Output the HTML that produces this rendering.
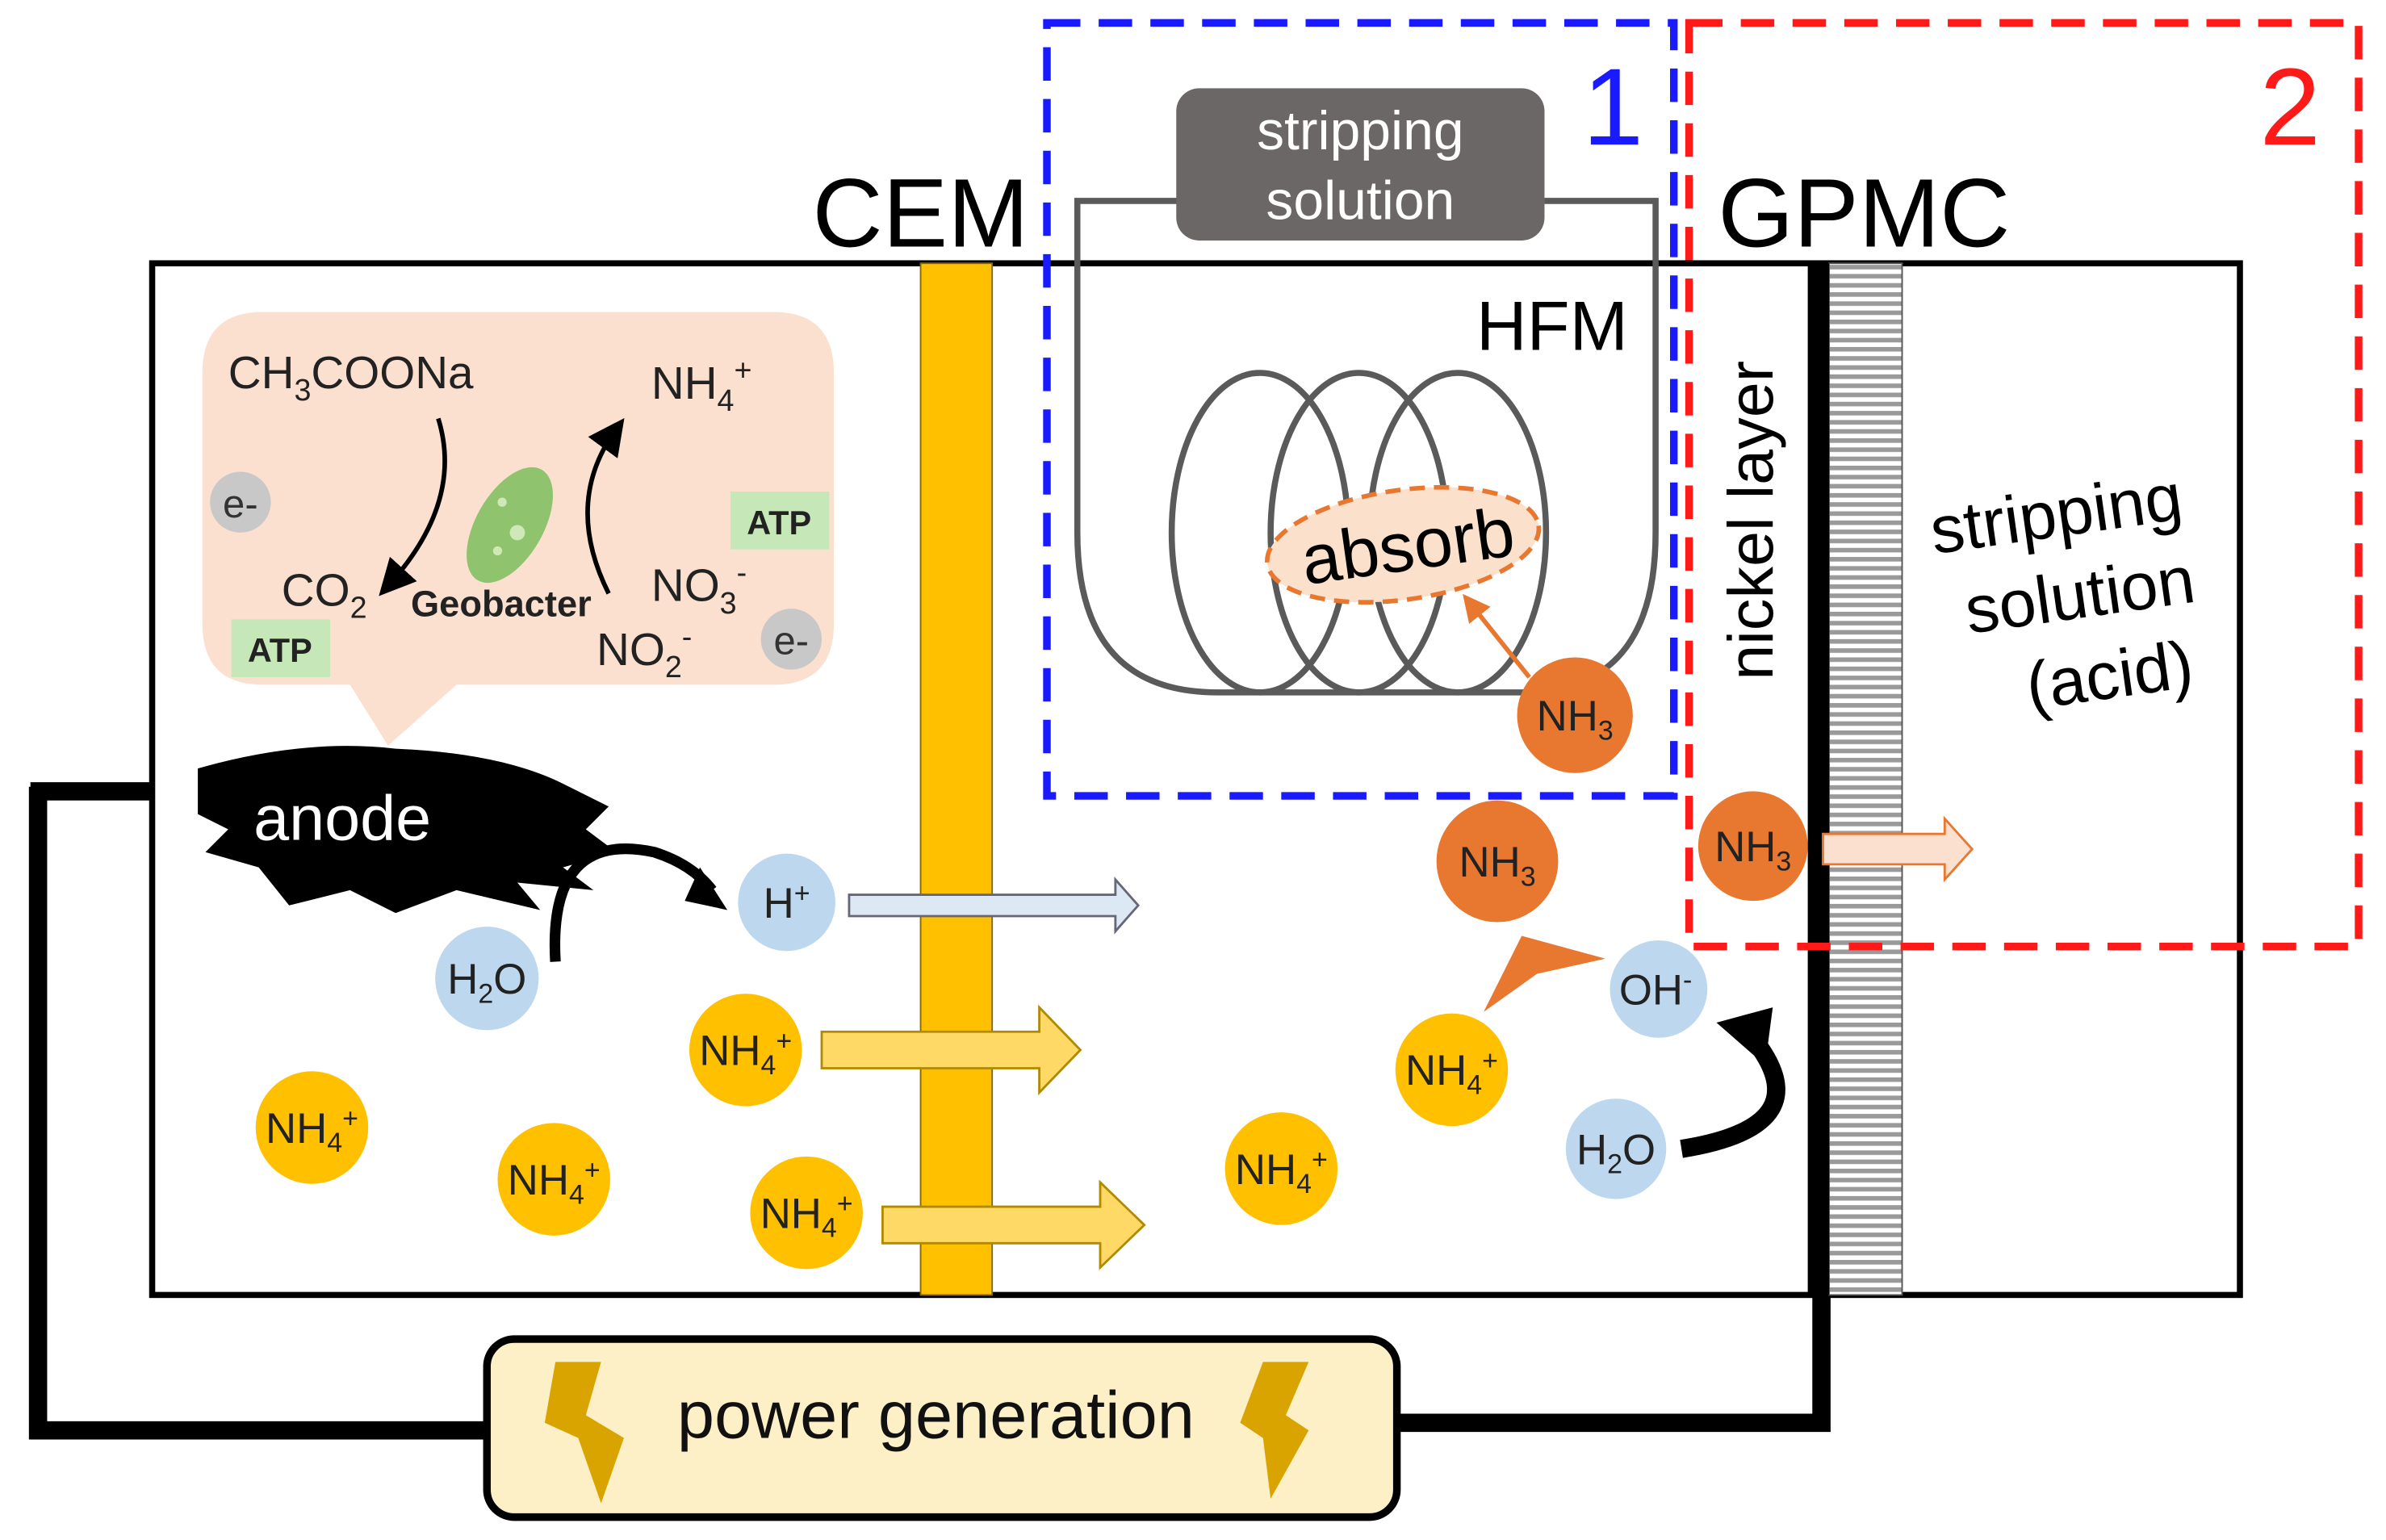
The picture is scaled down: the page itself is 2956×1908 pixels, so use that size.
<!DOCTYPE html>
<html><head><meta charset="utf-8"><style>html,body{margin:0;padding:0;background:#fff}svg{display:block}</style></head>
<body>
<svg width="2956" height="1908" viewBox="0 0 1568 1012" xmlns="http://www.w3.org/2000/svg" font-family="Liberation Sans, sans-serif">
<defs>
<pattern id="hatch" width="6" height="6" patternUnits="userSpaceOnUse"><rect width="6" height="6" fill="#fff"/><rect width="6" height="3" fill="#9a9a9a"/></pattern>
<marker id="ah" markerWidth="8" markerHeight="8" refX="5" refY="4" orient="auto"><path d="M0,0 L8,4 L0,8 Z" fill="#000"/></marker>
<marker id="ao" markerWidth="6" markerHeight="6" refX="4" refY="3" orient="auto"><path d="M0,0 L6,3 L0,6 Z" fill="#E87730"/></marker>
</defs>
<!-- wires -->
<path d="M20,520 H150 M25,517 V940 H322 M918,935 H1197 V851" fill="none" stroke="#000" stroke-width="12"/>
<!-- main box -->
<rect x="100" y="173" width="1372" height="678" fill="#fff" stroke="#000" stroke-width="4"/>
<!-- CEM -->
<rect x="605" y="173" width="47" height="678" fill="#FFC000" stroke="#8a6a00" stroke-width="1"/>
<!-- GPMC -->
<rect x="1202" y="173" width="48" height="678" fill="url(#hatch)" stroke="#555" stroke-width="1"/>
<rect x="1188" y="173" width="14" height="678" fill="#000"/>
<!-- callout -->
<path d="M173,205 H508 Q548,205 548,245 V410 Q548,450 508,450 H300 L255,490 L230,450 H173 Q133,450 133,410 V245 Q133,205 173,205 Z" fill="#fbe0d0"/>
<text x="150" y="255" font-size="30" fill="#222">CH<tspan font-size="20" dy="8">3</tspan><tspan dy="-8">COONa</tspan></text>
<text x="428" y="262" font-size="30" fill="#222">NH<tspan font-size="20" dy="8">4</tspan><tspan font-size="20" dy="-20">+</tspan></text>
<text x="185" y="398" font-size="30" fill="#222">CO<tspan font-size="20" dy="8">2</tspan></text>
<text x="428" y="395" font-size="30" fill="#222">NO<tspan font-size="20" dy="8">3</tspan><tspan font-size="20" dy="-20">-</tspan></text>
<text x="392" y="437" font-size="30" fill="#222">NO<tspan font-size="20" dy="8">2</tspan><tspan font-size="20" dy="-20">-</tspan></text>
<text x="270" y="405" font-size="24" font-weight="bold" fill="#222">Geobacter</text>
<path d="M288,275 Q305,330 255,385" fill="none" stroke="#000" stroke-width="3" marker-end="url(#ah)"/>
<path d="M400,390 Q370,330 405,282" fill="none" stroke="#000" stroke-width="3" marker-end="url(#ah)"/>
<ellipse cx="335" cy="345" rx="22" ry="42" transform="rotate(30 335 345)" fill="#8fc36e"/>
<circle cx="330" cy="330" r="3" fill="#cfe8b8"/><circle cx="340" cy="350" r="5" fill="#cfe8b8"/><circle cx="327" cy="362" r="3" fill="#cfe8b8"/>
<circle cx="158" cy="330" r="20" fill="#c8c8c8"/><text x="158" y="340" font-size="26" text-anchor="middle" fill="#333">e-</text>
<circle cx="520" cy="420" r="20" fill="#c8c8c8"/><text x="520" y="430" font-size="26" text-anchor="middle" fill="#333">e-</text>
<rect x="480" y="323" width="65" height="38" fill="#c6e8b8"/><text x="512" y="351" font-size="22" font-weight="bold" text-anchor="middle" fill="#222">ATP</text>
<rect x="152" y="407" width="65" height="38" fill="#c6e8b8"/><text x="184" y="435" font-size="22" font-weight="bold" text-anchor="middle" fill="#222">ATP</text>
<!-- anode -->
<path d="M130,505 Q200,485 260,492 Q330,495 370,515 L400,530 L385,545 L405,560 L370,570 L390,585 L340,580 L355,598 L300,585 L260,600 L230,585 L190,595 L170,570 L135,560 L150,545 L130,535 Z" fill="#000"/>
<text x="225" y="552" font-size="42" fill="#fff" text-anchor="middle">anode</text>
<!-- blue dashed -->
<rect x="688" y="15" width="412" height="508" fill="none" stroke="#1a1aff" stroke-width="5" stroke-dasharray="22 12"/>
<text x="1060" y="95" font-size="72" fill="#1a1aff" text-anchor="middle">1</text>
<!-- red dashed -->
<rect x="1110" y="15" width="440" height="607" fill="none" stroke="#ff1a1a" stroke-width="5" stroke-dasharray="22 12"/>
<text x="1505" y="95" font-size="72" fill="#ff1a1a" text-anchor="middle">2</text>
<!-- loop -->
<path d="M775,132 H708 V350 Q708,455 800,455 H1000 Q1088,455 1088,350 V132 H1015" fill="none" stroke="#5a5a5a" stroke-width="4"/>
<g fill="none" stroke="#5a5a5a" stroke-width="4">
<ellipse cx="828" cy="350" rx="58" ry="105"/><ellipse cx="893" cy="350" rx="58" ry="105"/><ellipse cx="958" cy="350" rx="58" ry="105"/>
</g>
<rect x="773" y="58" width="242" height="100" rx="15" fill="#6b6767"/>
<text x="894" y="98" font-size="36" fill="#fff" text-anchor="middle">stripping</text>
<text x="894" y="144" font-size="36" fill="#fff" text-anchor="middle">solution</text>
<text x="1020" y="230" font-size="46" fill="#000" text-anchor="middle">HFM</text>
<ellipse cx="922" cy="358" rx="90" ry="36" transform="rotate(-8 922 358)" fill="#fbe0cc" stroke="#E87730" stroke-width="3" stroke-dasharray="10 6"/>
<text x="925" y="375" font-size="46" text-anchor="middle" transform="rotate(-8 922 358)" fill="#000">absorb</text>
<path d="M1005,445 L965,395" stroke="#E87730" stroke-width="3" marker-end="url(#ao)"/>
<!-- labels -->
<text x="605" y="162" font-size="64" text-anchor="middle">CEM</text>
<text x="1225" y="162" font-size="64" text-anchor="middle">GPMC</text>
<text x="1178" y="355" font-size="42" text-anchor="middle" transform="rotate(-90 1165 355)">nickel layer</text>
<g transform="rotate(-8 1360 400)" font-size="44" text-anchor="middle">
<text x="1360" y="352">stripping</text><text x="1368" y="407">solution</text><text x="1380" y="462">(acid)</text></g>
<!-- NH3 -->
<g fill="#E87730"><circle cx="1035" cy="470" r="38"/><circle cx="984" cy="566" r="40"/><circle cx="1152" cy="556" r="36"/></g>
<g font-size="28" text-anchor="middle" fill="#222">
<text x="1035" y="480">NH<tspan font-size="18" dy="6">3</tspan></text>
<text x="984" y="576">NH<tspan font-size="18" dy="6">3</tspan></text>
<text x="1152" y="566">NH<tspan font-size="18" dy="6">3</tspan></text></g>
<path d="M1198,548 H1278 V538 L1296,558 L1278,578 V568 H1198 Z" fill="#fbe0d0" stroke="#E87730" stroke-width="1.5"/>
<!-- orange chevron -->
<path d="M975,665 L1000,615 L1055,630 L1010,640 Z" fill="#E87730"/>
<!-- blue circles -->
<g fill="#BDD7EE"><circle cx="517" cy="593" r="32"/><circle cx="320" cy="643" r="34"/><circle cx="1090" cy="650" r="32"/><circle cx="1062" cy="755" r="33"/></g>
<g font-size="28" text-anchor="middle" fill="#222">
<text x="517" y="603">H<tspan font-size="18" dy="-10">+</tspan></text>
<text x="320" y="653">H<tspan font-size="18" dy="6">2</tspan><tspan dy="-6">O</tspan></text>
<text x="1088" y="660">OH<tspan font-size="18" dy="-10">-</tspan></text>
<text x="1062" y="765">H<tspan font-size="18" dy="6">2</tspan><tspan dy="-6">O</tspan></text></g>
<!-- curved arrows -->
<path d="M365,632 Q360,545 430,560 Q455,568 468,585" fill="none" stroke="#000" stroke-width="7"/>
<path d="M460,570 L478,598 L450,592 Z" fill="#000"/>
<path d="M1105,755 Q1200,740 1150,680" fill="none" stroke="#000" stroke-width="12"/>
<path d="M1128,672 L1165,662 L1160,700 Z" fill="#000"/>
<!-- arrows through CEM -->
<path d="M558,588 H733 V578 L748,595 L733,612 V602 H558 Z" fill="#dde8f5" stroke="#667" stroke-width="1.5"/>
<path d="M540,678 H683 V662 L710,690 L683,718 V702 H540 Z" fill="#FFD966" stroke="#b08a00" stroke-width="1.5"/>
<path d="M580,793 H723 V777 L752,805 L723,833 V817 H580 Z" fill="#FFD966" stroke="#b08a00" stroke-width="1.5"/>
<!-- NH4+ -->
<g fill="#FFC000"><circle cx="205" cy="741" r="37"/><circle cx="364" cy="775" r="37"/><circle cx="490" cy="690" r="37"/><circle cx="530" cy="797" r="37"/><circle cx="842" cy="768" r="37"/><circle cx="954" cy="703" r="37"/></g>
<g font-size="28" text-anchor="middle" fill="#222">
<text x="205" y="751">NH<tspan font-size="18" dy="6">4</tspan><tspan font-size="18" dy="-16">+</tspan></text>
<text x="364" y="785">NH<tspan font-size="18" dy="6">4</tspan><tspan font-size="18" dy="-16">+</tspan></text>
<text x="490" y="700">NH<tspan font-size="18" dy="6">4</tspan><tspan font-size="18" dy="-16">+</tspan></text>
<text x="530" y="807">NH<tspan font-size="18" dy="6">4</tspan><tspan font-size="18" dy="-16">+</tspan></text>
<text x="842" y="778">NH<tspan font-size="18" dy="6">4</tspan><tspan font-size="18" dy="-16">+</tspan></text>
<text x="954" y="713">NH<tspan font-size="18" dy="6">4</tspan><tspan font-size="18" dy="-16">+</tspan></text></g>
<!-- power generation -->
<rect x="320" y="880" width="598" height="117" rx="18" fill="#fdf0c6" stroke="#000" stroke-width="5"/>
<text x="615" y="945" font-size="44" text-anchor="middle" fill="#111">power generation</text>
<path d="M365,895 L395,895 L385,930 L410,945 L395,988 L380,945 L358,935 Z" fill="#d9a400"/>
<path d="M830,895 L860,895 L845,930 L860,940 L835,985 L830,945 L815,935 Z" fill="#d9a400"/>
</svg>
</body></html>
